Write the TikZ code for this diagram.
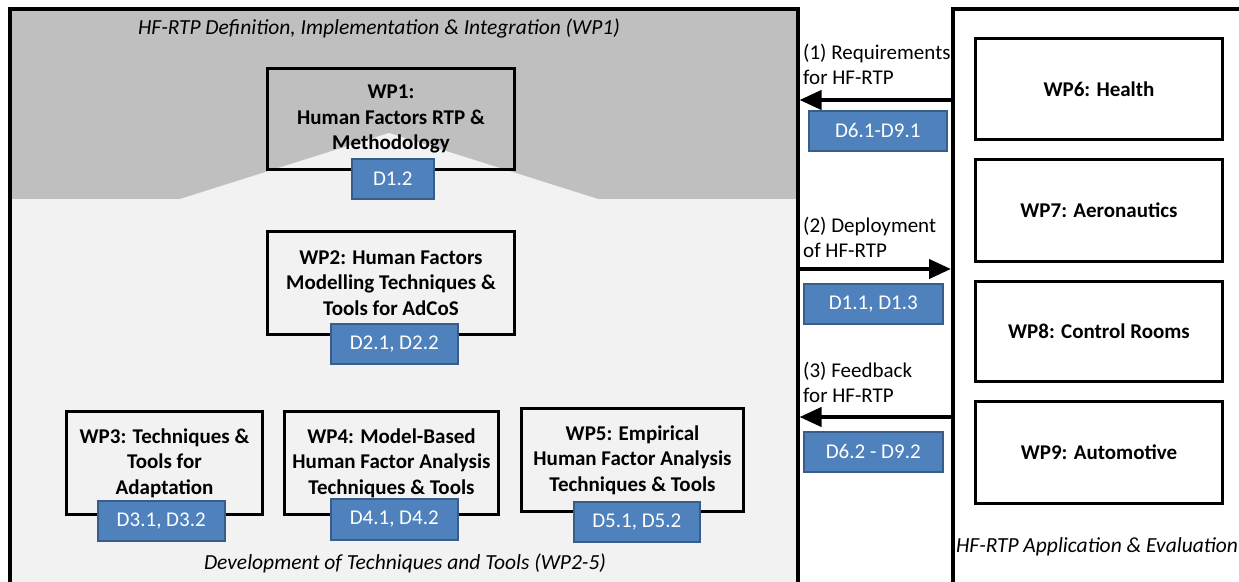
\documentclass[tikz,border=0pt]{standalone}
\usepackage{fontspec}
\setmainfont{Carlito}
\usetikzlibrary{arrows.meta}

\definecolor{hfgray}{HTML}{BFBFBF}
\definecolor{hflight}{HTML}{F2F2F2}
\definecolor{delfill}{HTML}{4F81BD}
\definecolor{deldraw}{HTML}{385D8A}

\begin{document}
\begin{tikzpicture}[x=1pt,y=-1pt,
        frame/.style={draw,line width=3.5pt,anchor=north west,inner sep=0pt},
        wpbox/.style={draw,line width=3pt,anchor=north west,align=center,inner sep=0pt,
            font=\fontsize{21}{25.5}\selectfont\bfseries},
        delbox/.style={draw=deldraw,fill=delfill,line width=1.5pt,text=white,anchor=north west,
            inner sep=0pt,font=\fontsize{21}{25}\selectfont},
        flow/.style={line width=4pt,-{Triangle[length=22pt,width=19pt]}},
        flowtext/.style={anchor=west,align=left,inner sep=0pt,font=\fontsize{21}{25}\selectfont},
        areatext/.style={inner sep=0pt,font=\fontsize{21.5}{25}\selectfont\itshape}]
        \useasboundingbox (0,0) rectangle (1239,581);
        % background of the left area
        \fill [hfgray] (8,7) rectangle (796,199);
        \fill [hflight] (8,199) -- (180,199) -- (389,133) -- (598,199) -- (796,199)
            -- (796,627) -- (8,627) -- cycle;
        \node [frame,minimum width=788pt,minimum height=620pt] (wpframe) at (8,7) {};
        \node [areatext] (deftitle) at (379,28) {HF-RTP Definition, Implementation \& Integration (WP1)};
        \node [areatext] (devtitle) at (405,563) {Development of Techniques and Tools (WP2-5)};
        % work packages 1-5
        \node [wpbox,minimum width=247pt,minimum height=101pt] (wp1) at (266,67)
            {WP1:\\Human Factors RTP \&\\Methodology};
        \node [wpbox,minimum width=247pt,minimum height=103pt] (wp2) at (266,230)
            {WP2: Human Factors\\Modelling Techniques \&\\Tools for AdCoS};
        \node [wpbox,minimum width=196pt,minimum height=103pt] (wp3) at (65,410)
            {WP3: Techniques \&\\Tools for\\Adaptation};
        \node [wpbox,minimum width=214pt,minimum height=103pt] (wp4) at (283,410)
            {WP4: Model-Based\\Human Factor Analysis\\Techniques \& Tools};
        \node [wpbox,minimum width=222pt,minimum height=103pt] (wp5) at (520,407)
            {WP5: Empirical\\Human Factor Analysis\\Techniques \& Tools};
        % flow labels
        \node [flowtext] (req) at (803,64) {(1) Requirements\\for HF-RTP};
        \node [flowtext] (dep) at (803,237) {(2) Deployment\\of HF-RTP};
        \node [flowtext] (feed) at (803,382) {(3) Feedback\\for HF-RTP};
        % application area
        \node [frame,fill=white,minimum width=320pt,minimum height=620pt] (appframe) at (951,7) {};
        \node [areatext] (apptitle) at (1097,547) {HF-RTP Application \& Evaluation};
        \node [wpbox,minimum width=247pt,minimum height=101pt] (wp6) at (974,37) {WP6: Health};
        \node [wpbox,minimum width=247pt,minimum height=102pt] (wp7) at (974,158) {WP7: Aeronautics};
        \node [wpbox,minimum width=247pt,minimum height=100pt] (wp8) at (974,280) {WP8: Control Rooms};
        \node [wpbox,minimum width=247pt,minimum height=102pt] (wp9) at (974,400) {WP9: Automotive};
        % arrows between the areas
        \coordinate (r1) at (0,100);
        \coordinate (r2) at (0,269);
        \coordinate (r3) at (0,417);
        \draw [flow] (appframe.west |- r1) -- (wpframe.east |- r1);
        \draw [flow] (wpframe.east |- r2) -- (appframe.west |- r2);
        \draw [flow] (appframe.west |- r3) -- (wpframe.east |- r3);
        % deliverables
        \node [delbox,minimum width=82pt,minimum height=40pt] (d12) at (351,158) {D1.2};
        \node [delbox,minimum width=127pt,minimum height=40pt] (d2) at (330,323) {D2.1, D2.2};
        \node [delbox,minimum width=127pt,minimum height=40pt] (d3) at (97,500) {D3.1, D3.2};
        \node [delbox,minimum width=127pt,minimum height=41pt] (d4) at (330,498) {D4.1, D4.2};
        \node [delbox,minimum width=126pt,minimum height=40pt] (d5) at (573,501) {D5.1, D5.2};
        \node [delbox,minimum width=138pt,minimum height=40pt] (d61) at (808,110) {D6.1-D9.1};
        \node [delbox,minimum width=139pt,minimum height=40pt] (d11) at (803,283) {D1.1, D1.3};
        \node [delbox,minimum width=139pt,minimum height=40pt] (d62) at (803,431) {D6.2 - D9.2};
    \end{tikzpicture}
\end{document}
